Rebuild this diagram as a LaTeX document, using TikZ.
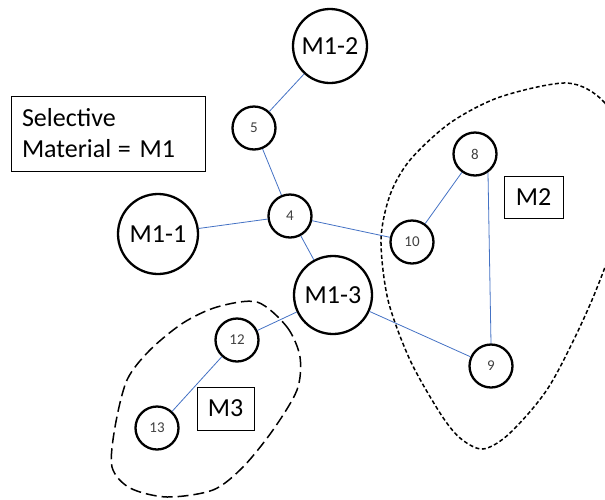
\documentclass[tikz,border=0pt]{standalone}
\usepackage{fontspec}
\setmainfont{Carlito}
\usepackage{tikz}
\usetikzlibrary{positioning}

\definecolor{linkblue}{RGB}{68,114,196}
\definecolor{numgrey}{RGB}{64,64,64}

\begin{document}
\begin{tikzpicture}[x=1pt, y=-1pt,
	bignode/.style={circle, draw, line width=2.3pt, inner sep=0pt, font=\fontsize{26}{31}\selectfont},
	numnode/.style={circle, draw, line width=2.3pt, inner sep=0pt, minimum size=43pt, text=numgrey, font=\fontsize{15}{18}\selectfont},
	tagbox/.style={draw, line width=0.8pt, inner sep=0pt, font=\fontsize{26}{31}\selectfont},
	link/.style={linkblue, line width=0.8pt},
	shortdash/.style={line width=1.5pt, dash pattern=on 4pt off 2.5pt},
	longdash/.style={line width=1.5pt, dash pattern=on 11pt off 5pt}]
	\useasboundingbox (0,0) rectangle (605,499);

	\draw[shortdash] plot[smooth cycle] coordinates {(567,83) (604,102) (628,150) (622,215) (592,300) (550,385) (510,433) (483,449) (460,438) (440,413) (410,360) (388,300) (381,240) (390,195) (410,160) (450,123) (500,97)};
	\draw[longdash] plot[smooth cycle] coordinates {(257,302) (287,327) (300,357) (297,390) (273,430) (243,467) (213,490) (167,497) (130,488) (112,467) (115,427) (127,380) (150,350) (183,323) (217,307)};

	\node[tagbox, minimum width=194pt, minimum height=75pt, text width=172pt, align=left] (sel) at (108,133.5) {Selective\\Material\hspace{-2pt} = M1};
	\node[tagbox, minimum width=59pt, minimum height=42pt] (mtwo) at (533.5,197) {M2};
	\node[tagbox, minimum width=57pt, minimum height=43pt] (mthree) at (225.5,408.5) {M3};

	\node[bignode, minimum size=74pt] (mat2) at (330,46) {M1-2};
	\node[bignode, minimum size=80pt] (mat1) at (158,234) {M1-1};
	\node[bignode, minimum size=78pt] (mat3) at (333,295) {M1-3};
	\node[numnode] (n5) at (254,128) {5};
	\node[numnode] (n4) at (290,216) {4};
	\node[numnode] (n10) at (412,242) {10};
	\node[numnode] (n8) at (475,154) {8};
	\node[numnode] (n9) at (491,366) {9};
	\node[numnode] (n12) at (237,340) {12};
	\node[numnode] (n13) at (157,428) {13};

	\draw[link] (mat2) -- (n5);
	\draw[link] (n5) -- (n4);
	\draw[link] (mat1) -- (n4);
	\draw[link] (n4) -- (n10);
	\draw[link] (n4) -- (mat3);
	\draw[link] (n10) -- (n8);
	\draw[link] (n8.-55) -- (n9.north);
	\draw[link] (mat3) -- (n9);
	\draw[link] (mat3) -- (n12);
	\draw[link] (n12) -- (n13);
\end{tikzpicture}
\end{document}
